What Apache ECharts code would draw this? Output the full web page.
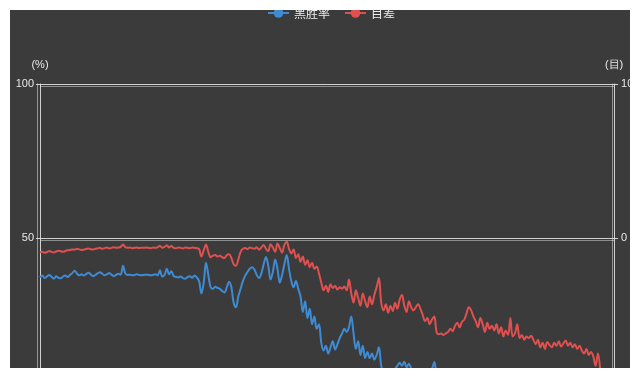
<!DOCTYPE html>
<html>
<head>
<meta charset="utf-8">
<script src="https://cdn.jsdelivr.net/npm/echarts@6/dist/echarts.min.js"></script>
<style>
html,body{margin:0;padding:0;background:#ffffff;width:640px;height:378px;overflow:hidden;}
#wrap{position:absolute;left:10px;top:10px;width:620px;height:358px;overflow:hidden;background:#3b3b3b;}
#chart{position:absolute;left:-10px;top:-10px;width:640px;height:460px;}
</style>
</head>
<body>
<div id="wrap"><div id="chart"></div></div>
<script>
// move numbers (x categories)
const moves = Array.from({length: 250}, (_, i) => i + 1);

// 黑胜率 (%) — left axis
const winRate = [
37.2,37.8,37.0,37.5,38.0,37.4,36.8,37.6,37.1,36.9,37.5,37.8,37.3,
38.0,38.6,39.4,38.5,37.9,38.2,
37.8,38.3,38.7,38.2,37.6,38.0,38.5,38.9,38.4,37.9,38.2,38.6,38.1,37.7,38.0,38.4,38.1,
41.0,38.5,
38.0,38.1,37.9,38.0,38.2,38.0,37.9,38.0,38.1,38.0,37.9,38.0,38.2,37.9,
39.5,37.5,38.0,40.0,38.2,39.2,37.6,
37.4,37.2,37.5,37.0,36.8,37.3,37.6,37.1,37.8,37.2,
36.0,32.0,35.5,42.0,38.0,34.0,33.5,34.2,33.8,33.5,32.8,32.3,34.0,35.8,34.0,29.0,27.5,31.0,
33.5,36.0,37.8,39.0,40.0,40.5,39.8,38.0,37.0,38.5,
41.5,43.8,41.0,36.5,39.0,43.0,40.0,35.5,38.0,41.5,44.5,40.0,36.0,
34.0,36.0,33.5,31.0,
26.0,29.5,24.0,27.0,
22.0,24.5,20.5,22.0,
16.0,13.5,15.0,12.5,
14.5,16.5,13.8,15.5,17.5,
19.0,20.5,19.5,21.0,
24.5,19.0,14.0,16.5,12.0,15.0,11.0,13.0,
11.0,12.5,10.5,12.0,14.5,
8.5,6.5,7.5,5.5,7.0,6.0,7.5,8.5,9.5,
8.5,9.8,8.0,9.2,7.5,6.0,
5.5,4.5,6.0,5.0,4.0,5.5,6.5,7.5,9.7,
6.0,5.0,4.5,5.5,4.0,3.5,4.2,3.8,4.6,5.2,
4.8,5.6,6.2,5.4,4.9,5.8,6.0,5.1,4.4,4.0,
3.6,4.2,3.8,3.4,3.9,3.5,3.2,2.9,3.3,2.8,
3.1,2.6,2.9,3.4,2.7,2.5,2.8,2.4,2.2,2.5,
2.3,2.1,1.9,2.2,2.0,1.8,1.6,1.9,1.7,1.8,
1.6,1.5,1.7,1.4,1.6,1.5,1.3,1.6,1.4,1.2,
1.4,1.3,1.1,1.2,1.0,0.9,1.1,0.8,0.9,0.7,
0.6,0.5
];

// 目差 (points) — right axis
const scoreLead = [
-0.95,-0.90,-0.96,-0.92,-0.85,-0.90,-0.94,-0.88,-0.82,-0.86,-0.90,-0.84,-0.80,
-0.78,-0.74,-0.76,-0.70,-0.74,-0.78,-0.75,-0.72,-0.68,-0.73,
-0.75,-0.70,-0.68,-0.64,-0.70,-0.66,-0.62,-0.68,-0.64,-0.60,-0.64,-0.62,-0.58,
-0.42,-0.60,
-0.64,-0.62,-0.66,-0.64,-0.62,-0.65,-0.63,-0.64,-0.62,-0.64,-0.66,-0.62,-0.64,-0.60,
-0.50,-0.64,-0.58,-0.47,-0.62,-0.52,-0.64,
-0.66,-0.62,-0.64,-0.68,-0.62,-0.64,-0.67,-0.62,-0.64,-0.66,
-0.72,-1.20,-0.80,-0.42,-0.90,-1.25,-1.15,-1.10,-1.20,-1.15,-1.25,-1.30,-1.10,-1.05,-1.30,-1.70,-1.80,-1.40,
-0.90,-0.70,-0.65,-0.72,-0.62,-0.66,-0.70,-0.60,-0.75,-0.62,
-0.45,-0.70,-0.85,-0.40,-0.62,-0.90,-0.35,-0.65,-0.95,-0.45,-0.25,-0.70,-1.00,
-0.75,-1.30,-1.05,-1.55,-1.20,-1.75,-1.45,-1.90,
-1.60,-2.00,-1.85,-2.30,
-2.90,-3.40,-3.10,-3.50,
-3.00,-3.25,-3.10,-3.35,-3.20,-3.30,-3.15,-3.40,
-2.70,-3.60,-4.20,-3.40,-3.90,-4.40,-3.60,-4.10,-4.50,-3.80,-4.30,-3.70,-3.20,-2.60,
-4.20,-4.70,-4.30,-4.85,-4.40,-4.75,-4.20,-4.60,-4.00,
-3.70,-4.40,-4.80,-4.10,-4.50,-4.70,
-4.50,-4.30,-4.60,-5.00,-5.40,-5.20,-5.60,-5.30,-5.10,
-6.10,-6.25,-6.20,-6.30,-6.20,-6.10,
-5.90,-6.05,-5.70,-5.50,-5.80,-5.45,-5.30,
-4.90,-4.50,-4.70,-5.10,-5.40,
-5.80,-5.20,-5.60,-6.10,-5.50,-5.90,-5.70,-6.00,
-5.60,-6.20,-5.80,-6.40,-6.00,-6.30,-5.20,
-6.40,-6.20,-5.60,-6.50,
-6.30,-6.60,-6.40,-6.50,-6.35,-6.60,
-6.90,-6.60,-7.10,-6.80,-7.20,-6.75,-6.95,-7.10,
-6.80,-7.00,-6.70,-7.05,-6.85,-6.65,-7.00,-6.80,-7.10,-6.90,-7.20,-7.00,
-7.30,-7.50,-7.20,-7.60,-7.40,-7.70,
-8.30,-7.50,-8.60
];

const seriesNames = ['黑胜率', '目差'];
const leftTicks = {min: 0, max: 100, interval: 50, name: '(%)'};
const rightTicks = {min: -10, max: 10, interval: 10, name: '(目)'};

const chart = echarts.init(document.getElementById('chart'), null, {renderer: 'canvas'});
const lineCol = 'rgba(235,235,235,0.85)';
const labelStyle = {color: '#e8e8e8', fontSize: 11, fontFamily: 'Liberation Sans, Arial, sans-serif'};

chart.setOption({
  backgroundColor: '#3b3b3b',
  animation: false,
  color: ['#3f8bd3', '#e0504f'],
  legend: {
    data: seriesNames,
    top: 2,
    left: 262,
    itemWidth: 21,
    itemHeight: 12,
    itemGap: 14,
    textStyle: {color: '#eeeeee', fontSize: 12, fontFamily: 'Noto Sans CJK SC'}
  },
  grid: {left: 40, right: 25, top: 84, bottom: 68, containLabel: false},
  xAxis: {
    type: 'category',
    data: moves,
    boundaryGap: false,
    axisLine: {show: false},
    axisTick: {show: false},
    axisLabel: {show: false},
    splitLine: {show: false}
  },
  yAxis: [
    {
      type: 'value',
      position: 'left',
      min: leftTicks.min, max: leftTicks.max, interval: leftTicks.interval,
      name: leftTicks.name,
      nameGap: 14,
      nameTextStyle: {color: '#e8e8e8', fontSize: 11},
      axisLine: {show: true, lineStyle: {color: lineCol, width: 1, shadowColor: 'rgba(235,235,235,0.6)', shadowOffsetX: -3, shadowBlur: 0}},
      axisTick: {show: true, length: 4, lineStyle: {color: lineCol}},
      axisLabel: Object.assign({margin: 6}, labelStyle),
      splitLine: {show: true, lineStyle: {color: lineCol, width: 1, shadowColor: 'rgba(235,235,235,0.55)', shadowOffsetY: 2, shadowBlur: 0}}
    },
    {
      type: 'value',
      position: 'right',
      min: rightTicks.min, max: rightTicks.max, interval: rightTicks.interval,
      name: rightTicks.name,
      nameGap: 14,
      nameTextStyle: {color: '#e8e8e8', fontSize: 11},
      axisLine: {show: true, lineStyle: {color: lineCol, width: 1, shadowColor: 'rgba(235,235,235,0.6)', shadowOffsetX: -2, shadowBlur: 0}},
      axisTick: {show: true, length: 4, lineStyle: {color: lineCol}},
      axisLabel: Object.assign({margin: 7}, labelStyle),
      splitLine: {show: false}
    }
  ],
  series: [
    {
      name: seriesNames[0],
      type: 'line',
      yAxisIndex: 0,
      data: winRate,
      smooth: 0.35,
      symbol: 'circle',
      symbolSize: 8,
      showSymbol: false,
      lineStyle: {width: 2}
    },
    {
      name: seriesNames[1],
      type: 'line',
      yAxisIndex: 1,
      data: scoreLead,
      smooth: 0.35,
      symbol: 'circle',
      symbolSize: 8,
      showSymbol: false,
      lineStyle: {width: 2}
    }
  ]
});
</script>
</body>
</html>
